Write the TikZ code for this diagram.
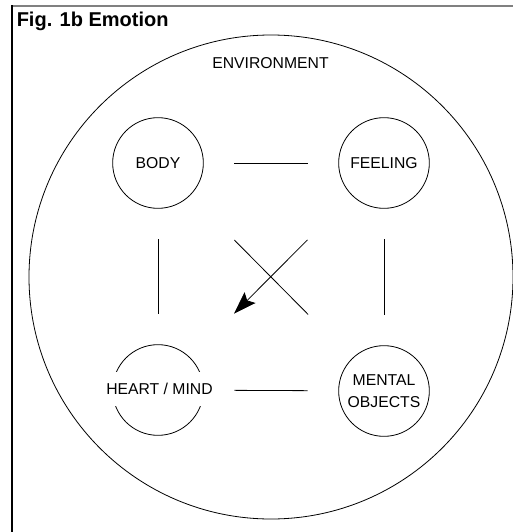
\documentclass[tikz,border=0pt]{standalone}
\usepackage{fontspec}
\setmainfont{Liberation Sans}
\usepackage{xcolor}
\usepackage{tikz}
\usetikzlibrary{positioning,arrows.meta}
\definecolor{ruleGray}{HTML}{808080}

\begin{document}
\begin{tikzpicture}[
    x=0.75pt, y=-0.75pt,
    every node/.style={font=\fontsize{11.8pt}{17pt}\selectfont},
    unit/.style={draw, circle, minimum size=68pt, inner sep=0pt, align=center, line width=0.6pt},
    link/.style={line width=0.6pt, shorten >=23pt, shorten <=23pt},
    cross/.style={line width=0.6pt, shorten >=46.5pt, shorten <=47pt},
    arrow/.style={-{Stealth[length=17pt, width=11.5pt, inset=3pt]}},
  ]
  \useasboundingbox (0,0) rectangle (513,532);

  % Frame
  \draw[ruleGray, line width=1.5pt] (12,5.5) -- (513,5.5);
  \draw[line width=0.8pt] (12,5) -- (12,532);
  \node[anchor=base west, inner sep=0pt, font=\fontsize{15pt}{18pt}\selectfont\bfseries] (title) at (16.5,26) {Fig. 1b Emotion};

  % Environment
  \node[draw, circle, minimum size=363pt, inner sep=0pt, line width=0.6pt] (env) at (271,277) {};
  \node (envlabel) at (270.5,63) {ENVIRONMENT};

  % Units
  \node[unit] (body) at (158,163) {BODY};
  \node[unit] (feeling) at (384,163) {FEELING};
  \node[unit] (heart) at (158,390) {};
  \node[fill=white, minimum height=26pt, inner xsep=1pt] (heartlabel) at (159.5,389) {HEART / MIND};
  \node[unit] (mental) at (384,391) {MENTAL\\OBJECTS};

  % Connectors
  \draw[link] (body) -- (feeling);
  \draw[link] (heart) -- (mental);
  \draw[link] (body) -- (heart);
  \draw[link] (feeling) -- (mental);
  \draw[cross] (body) -- (mental);
  \draw[cross, arrow] (feeling) -- (heart);
\end{tikzpicture}
\end{document}
